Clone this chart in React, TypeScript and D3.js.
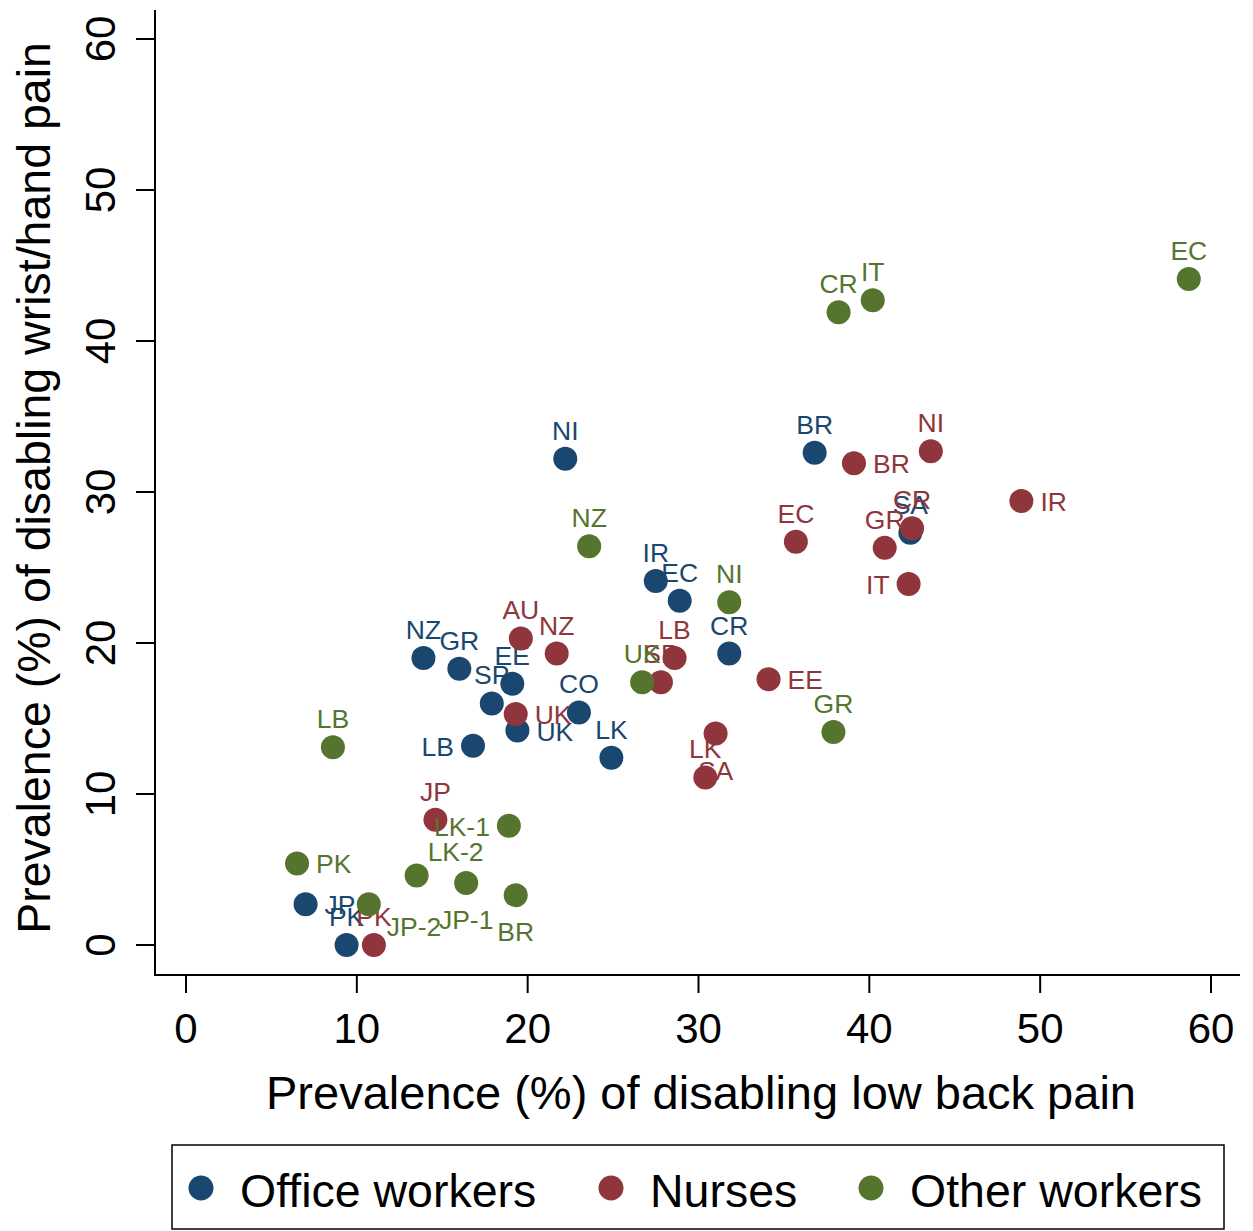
import * as d3 from "d3";

// Office workers
const officeCodes = ["NI", "BR", "IR", "EC", "CR", "SA", "NZ", "GR", "EE", "SP", "CO", "UK", "LK", "LB", "JP", "PK"];
const officeLBP = [22.2, 36.8, 27.5, 28.9, 31.8, 42.4, 13.9, 16.0, 19.1, 17.9, 23.0, 19.4, 24.9, 16.8, 7.0, 9.4];
const officeWrist = [32.2, 32.6, 24.1, 22.8, 19.3, 27.3, 19.0, 18.3, 17.3, 16.0, 15.4, 14.2, 12.4, 13.2, 2.7, 0.0];
const officePos = [12, 12, 12, 12, 12, 12, 12, 12, 12, 12, 12, 3, 12, 9, 3, 12];

// Nurses
const nurseCodes = ["AU", "NZ", "SP", "LB", "UK", "EC", "BR", "NI", "IR", "CR", "GR", "IT", "EE", "SA", "LK", "JP", "PK"];
const nurseLBP = [19.6, 21.7, 27.8, 28.6, 19.3, 35.7, 39.1, 43.6, 48.9, 42.5, 40.9, 42.3, 34.1, 31.0, 30.4, 14.6, 11.0];
const nurseWrist = [20.3, 19.3, 17.4, 19.0, 15.3, 26.7, 31.9, 32.7, 29.4, 27.6, 26.3, 23.9, 17.6, 14.0, 11.1, 8.3, 0.0];
const nursePos = [12, 12, 12, 12, 3, 12, 3, 12, 3, 12, 12, 9, 3, 6, 12, 12, 12];

// Other workers
const otherCodes = ["EC", "IT", "CR", "NZ", "NI", "UK", "GR", "LB", "LK-1", "LK-2", "JP-1", "BR", "PK", "JP-2"];
const otherLBP = [58.7, 40.2, 38.2, 23.6, 31.8, 26.7, 37.9, 8.6, 18.9, 13.5, 16.4, 19.3, 6.5, 10.7];
const otherWrist = [44.1, 42.7, 41.9, 26.4, 22.7, 17.4, 14.1, 13.1, 7.9, 4.6, 4.1, 3.3, 5.4, 2.7];
const otherPos = [12, 12, 12, 12, 12, 12, 12, 12, 9, 1, 6, 6, 3, 4];

const groups = ["Office workers", "Nurses", "Other workers"];
const colors = ["#1a476f", "#90353b", "#55752f"];
const ticks = [0, 10, 20, 30, 40, 50, 60];

const font = "'Liberation Sans', Arial, Helvetica, sans-serif";

// stata-ish clock position -> label placement
function labelAt(pos, cx, cy) {
    if (pos === 12) return { x: cx, y: cy - 19, a: "middle" };
    if (pos === 6) return { x: cx, y: cy + 46, a: "middle" };
    if (pos === 3) return { x: cx + 19, y: cy + 10, a: "start" };
    if (pos === 9) return { x: cx - 19, y: cy + 10, a: "end" };
    if (pos === 1) return { x: cx + 11, y: cy - 15, a: "start" };
    if (pos === 4) return { x: cx + 18, y: cy + 32, a: "start" };
    return { x: cx, y: cy + 9, a: "middle" };
}

export default function App() {
    var width = 1253
    var height = 1231
    const x = d3.scaleLinear([0, 60], [186, 1211]);
    const y = d3.scaleLinear([0, 60], [945, 39]);
    const left = 155, bottom = 975, top = 10, right = 1240;

    const series = [
        { codes: officeCodes, xs: officeLBP, ys: officeWrist, pos: officePos },
        { codes: nurseCodes, xs: nurseLBP, ys: nurseWrist, pos: nursePos },
        { codes: otherCodes, xs: otherLBP, ys: otherWrist, pos: otherPos },
    ];

    const legendX = [201, 611, 871];

    return (
        <svg width={width} height={height} style={{ position: "absolute", left: 0, top: 0, background: "white" }} fontFamily={font}>
            <rect width={width} height={height} fill="white" />
            {/* axes */}
            <line x1={left} x2={left} y1={top} y2={bottom + 1} stroke="black" strokeWidth={2} />
            <line x1={left - 1} x2={right} y1={bottom} y2={bottom} stroke="black" strokeWidth={2} />
            {ticks.map(t => (
                <g key={"y" + t}>
                    <line x1={136} x2={left} y1={y(t)} y2={y(t)} stroke="black" strokeWidth={2} />
                    <text transform={`translate(115,${y(t)}) rotate(-90)`} textAnchor="middle" fontSize={42}>{t}</text>
                </g>
            ))}
            {ticks.map(t => (
                <g key={"x" + t}>
                    <line x1={x(t)} x2={x(t)} y1={bottom} y2={993} stroke="black" strokeWidth={2} />
                    <text x={x(t)} y={1043} textAnchor="middle" fontSize={42}>{t}</text>
                </g>
            ))}
            <text transform="translate(50,488) rotate(-90)" textAnchor="middle" fontSize={46.5}>Prevalence (%) of disabling wrist/hand pain</text>
            <text x={701} y={1109} textAnchor="middle" fontSize={47}>Prevalence (%) of disabling low back pain</text>

            {/* points + labels, one group after another */}
            {series.map((s, gi) => (
                <g key={gi} fill={colors[gi]}>
                    {s.codes.map((c, i) => {
                        const cx = x(s.xs[i]), cy = y(s.ys[i]);
                        const l = labelAt(s.pos[i], cx, cy);
                        return (
                            <g key={c + i}>
                                <text x={l.x} y={l.y} textAnchor={l.a} fontSize={26.5}>{c}</text>
                                <circle cx={cx} cy={cy} r={12} />
                            </g>
                        );
                    })}
                </g>
            ))}

            {/* legend */}
            <rect x={172} y={1145} width={1052} height={84} fill="none" stroke="black" strokeWidth={1.5} />
            {groups.map((g, i) => (
                <g key={g}>
                    <circle cx={legendX[i]} cy={1188} r={12.5} fill={colors[i]} />
                    <text x={legendX[i] + 39} y={1207} fontSize={46.5}>{g}</text>
                </g>
            ))}
        </svg>
    );
}
